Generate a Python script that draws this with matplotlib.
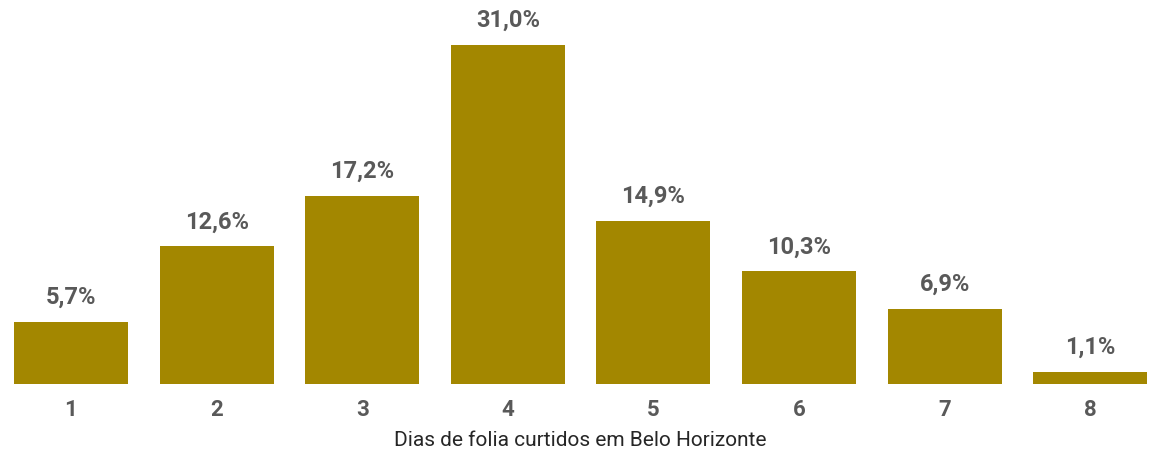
import matplotlib
matplotlib.use("Agg")
import matplotlib.pyplot as plt

categories = ["1", "2", "3", "4", "5", "6", "7", "8"]
values = [5.7, 12.6, 17.2, 31.0, 14.9, 10.3, 6.9, 1.1]
labels = ["5,7%", "12,6%", "17,2%", "31,0%", "14,9%", "10,3%", "6,9%", "1,1%"]
xlabel = "Dias de folia curtidos em Belo Horizonte"

plt.rcParams['font.family'] = ['Roboto', 'DejaVu Sans']

fig = plt.figure(figsize=(11.61, 4.56), dpi=100)
ax = fig.add_axes([0.0, 1 - 385/456, 1.0, 385/456])
x = list(range(len(categories)))
bars = ax.bar(x, values, width=0.783, color="#A38700")
ax.set_xlim(-0.488, 7.486)
ax.set_ylim(0, 31.0 * 385 / 339)
for xi, v, lab in zip(x, values, labels):
    ax.annotate(lab, (xi, v), xytext=(0, 10), textcoords="offset points",
                ha="center", va="bottom", fontsize=17, fontweight="bold", color="#595959")
ax.set_xticks(x)
ax.set_xticklabels(categories, fontsize=16, fontweight="bold", color="#595959")
ax.tick_params(axis="x", length=0, pad=10)
ax.set_yticks([])
for s in ax.spines.values():
    s.set_visible(False)
ax.set_xlabel(xlabel, fontsize=15, color="#262626", labelpad=7)
fig.savefig("out.png", dpi=100)
